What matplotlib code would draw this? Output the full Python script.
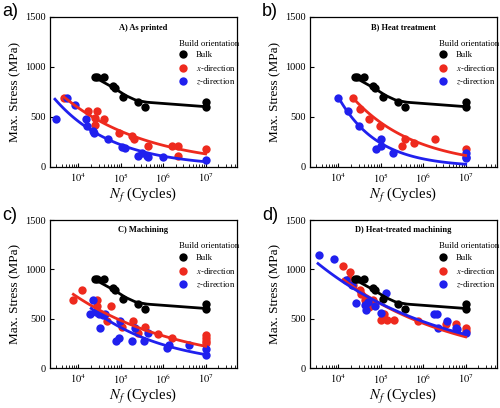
import numpy as np
import matplotlib
matplotlib.use("Agg")
import matplotlib.pyplot as plt
from matplotlib.lines import Line2D
from matplotlib.ticker import LogLocator, NullFormatter, FixedLocator

plt.rcParams['font.family'] = ['Liberation Serif', 'DejaVu Serif']
plt.rcParams['mathtext.fontset'] = 'stix'

RED = '#ee2a1e'
BLUE = '#2020ee'

# ---------------- data ----------------
bulk_N = [2.5e4, 2.7e4, 4.1e4, 6.5e4, 7.1e4, 1.15e5, 2.5e5, 3.7e5, 1e7, 1e7]
bulk_S = [900, 905, 900, 810, 795, 700, 650, 600, 650, 600]
# bulk fit curve knots (log10 N, MPa)
bulk_fit_logN = [4.40, 4.85, 5.10, 5.35, 5.60, 7.00]
bulk_fit_S = [893, 788, 718, 668, 648, 603]

a_x_N = [4.6e3, 1.7e4, 2.7e4, 2.5e4, 2.5e4, 4.1e4, 9e4, 1.8e5, 2.1e5, 4.3e5, 1.6e6, 2.2e6, 2.2e6, 1e7]
a_x_S = [690, 560, 560, 487, 420, 480, 343, 310, 277, 210, 210, 210, 113, 177]
a_z_N = [2.9e3, 5.5e3, 8.3e3, 1.5e4, 1.56e4, 2.2e4, 2.3e4, 5e4, 1.08e5, 1.25e5, 2.6e5, 3.1e5, 4.1e5, 4.4e5, 1e6, 1e7]
a_z_S = [480, 693, 620, 480, 413, 363, 343, 280, 203, 187, 110, 143, 110, 103, 97, 70]

b_x_N = [2.15e4, 3.3e4, 5.3e4, 9.4e4, 3.8e5, 3.2e5, 6.1e5, 1.9e6, 1e7]
b_x_S = [687, 583, 483, 413, 283, 210, 243, 280, 180]
b_z_N = [1e4, 1.7e4, 3.1e4, 1.03e5, 7.8e4, 1e5, 1.95e5, 1e7, 1e7, 1e7]
b_z_S = [690, 557, 413, 283, 177, 210, 143, 137, 103, 87]

c_x_N = [7.6e3, 1.2e4, 2.7e4, 2.8e4, 6e4, 4.6e4, 1.05e5, 1.9e5, 2.6e5, 3.7e5, 7.5e5, 1.6e6, 1e7, 1e7, 1e7, 1e7]
c_x_S = [685, 794, 690, 625, 628, 472, 414, 479, 353, 414, 343, 307, 330, 300, 275, 250]
c_z_N = [1.9e4, 2.2e4, 2.6e4, 3e4, 3.3e4, 3.8e4, 4.2e4, 7.6e4, 9e4, 9.8e4, 1.8e5, 2.2e5, 3.5e5, 4.4e5, 1.2e6, 1.35e6, 4e6, 1e7, 1e7]
c_z_S = [550, 685, 567, 545, 410, 533, 545, 273, 300, 472, 273, 410, 273, 350, 205, 235, 230, 196, 128]

d_x_N = [1.3e4, 1.9e4, 1.8e4, 2.2e4, 3.2e4, 3.5e4, 4.3e4, 5.4e4, 6.6e4, 1.2e5, 1e5, 1.4e5, 2.1e5, 7.5e5, 3.5e6, 5.8e6, 1e7, 1e7]
d_x_S = [1037, 970, 905, 837, 794, 753, 685, 617, 685, 550, 482, 482, 482, 480, 445, 445, 410, 380]
d_z_N = [3.4e3, 7.9e3, 1.5e4, 2.1e4, 2.6e4, 4.3e4, 4.5e4, 5e4, 7.2e4, 1e5, 1.3e5, 1.8e6, 2.1e6, 2.2e6, 3.6e6, 5.9e6, 6.3e6, 1e7]
d_z_S = [1142, 1105, 895, 837, 658, 635, 584, 668, 624, 556, 760, 550, 550, 408, 475, 408, 397, 353]

# Basquin fits  S = A * N**b  over [N_start, 1e7]
fit_A = {'a': (4400, 8070), 'b': (12940, 50900), 'c': (3410, 6500), 'd': (3965, 3345)}
fit_b = {'a': (-0.218, -0.312), 'b': (-0.293, -0.466), 'c': (-0.170, -0.240), 'd': (-0.157, -0.142)}
fit_start = {'a': (4.5e3, 2.8e3), 'b': (2.1e4, 1e4), 'c': (7.6e3, 2e4), 'd': (1.3e4, 3.3e3)}
fit_end = 1e7

titles = {'a': 'A) As printed', 'b': 'B) Heat treatment', 'c': 'C) Machining', 'd': 'D) Heat-treated machining'}
panel_data = {
    'a': (a_x_N, a_x_S, a_z_N, a_z_S),
    'b': (b_x_N, b_x_S, b_z_N, b_z_S),
    'c': (c_x_N, c_x_S, c_z_N, c_z_S),
    'd': (d_x_N, d_x_S, d_z_N, d_z_S),
}

W, H = 500, 408
fig = plt.figure(figsize=(W / 100, H / 100), dpi=100)

# axes boxes in pixels: left, top, width, height
boxes = {'a': (50, 17, 187, 150), 'b': (310, 17, 187, 150),
         'c': (50, 220, 187, 148), 'd': (310, 220, 187, 148)}

ms = 6.0
for key in ['a', 'b', 'c', 'd']:
    l, t, w, h = boxes[key]
    ax = fig.add_axes([l / W, 1 - (t + h) / H, w / W, h / H])
    xN, xS, zN, zS = panel_data[key]
    ax.plot(xN, xS, 'o', color=RED, ms=ms, mec='none', zorder=3)
    ax.plot(zN, zS, 'o', color=BLUE, ms=ms, mec='none', zorder=4)
    ax.plot(bulk_N, bulk_S, 'o', color='black', ms=ms, mec='none', zorder=5)

    # fit lines
    for i, col in enumerate([RED, BLUE]):
        A = fit_A[key][i]
        b = fit_b[key][i]
        n = np.logspace(np.log10(fit_start[key][i]), np.log10(fit_end), 100)
        ax.plot(n, A * n ** b, '-', color=col, lw=2.0, zorder=6)
    lg = np.linspace(bulk_fit_logN[0], bulk_fit_logN[-1], 200)
    ys = np.interp(lg, bulk_fit_logN, bulk_fit_S)
    k = np.ones(9) / 9
    ys_s = np.convolve(np.pad(ys, 4, mode='edge'), k, mode='valid')
    ax.plot(10 ** lg, ys_s, '-', color='black', lw=2.0, zorder=6)

    ax.set_xscale('log')
    ax.set_xlim(10 ** 3.33, 10 ** 7.74)
    ax.set_ylim(0, 1500)
    ax.xaxis.set_major_locator(FixedLocator([1e4, 1e5, 1e6, 1e7]))
    ax.xaxis.set_minor_locator(LogLocator(base=10, subs=np.arange(2, 10)))
    ax.xaxis.set_minor_formatter(NullFormatter())
    ax.set_xticklabels([r'$10^4$', r'$10^5$', r'$10^6$', r'$10^7$'])
    ax.set_yticks([0, 500, 1000, 1500])
    ax.tick_params(axis='both', which='major', direction='in', length=3, width=0.8,
                   labelsize=7.5, pad=3)
    ax.tick_params(axis='x', which='minor', direction='in', length=2, width=0.6)
    for sp in ax.spines.values():
        sp.set_linewidth(0.9)

    ax.set_ylabel('Max. Stress (MPa)', fontsize=9.5, labelpad=3)
    ax.set_xlabel(r'$N_f$ (Cycles)', fontsize=10.5, labelpad=1)

    ax.text(0.5, 0.93, titles[key], transform=ax.transAxes, ha='center', va='center',
            fontsize=6, fontweight='bold')

    handles = [Line2D([], [], ls='none', marker='o', color='black', ms=ms, mec='none'),
               Line2D([], [], ls='none', marker='o', color=RED, ms=ms, mec='none'),
               Line2D([], [], ls='none', marker='o', color=BLUE, ms=ms, mec='none')]
    labels = ['Bulk', r'$\mathit{x}$-direction', r'$\mathit{z}$-direction']
    ax.legend(handles, labels, title='Build orientation', loc='upper left',
              bbox_to_anchor=(0.655, 0.89), frameon=False, fontsize=6.3,
              title_fontsize=6.3, handlelength=1.0, handletextpad=1.0,
              labelspacing=0.42, borderpad=0.2, alignment='left')

    fig.text((l - 50 + 2) / W, 1 - (t - 5) / H, key + ')', ha='left', va='center',
             fontsize=13, family=['Liberation Sans', 'DejaVu Sans'])

fig.savefig('out.png', dpi=100)
